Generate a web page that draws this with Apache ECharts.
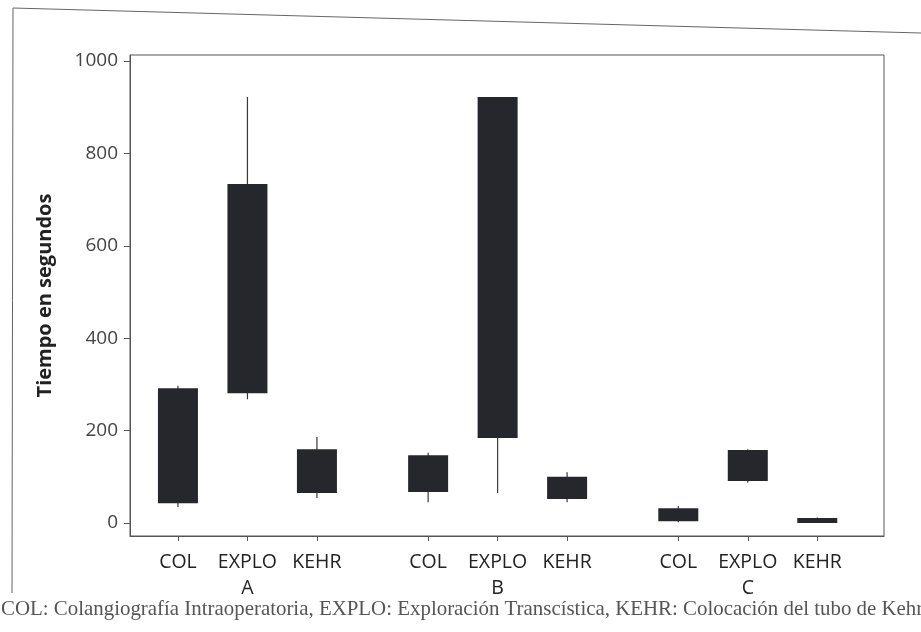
<!DOCTYPE html>
<html>
<head>
<meta charset="utf-8">
<script src="https://cdn.jsdelivr.net/npm/echarts@6/dist/echarts.min.js"></script>
<style>
  html, body { margin: 0; padding: 0; background: #fff; }
  #chart { width: 921px; height: 632px; }
</style>
</head>
<body>
<div id="chart"></div>
<script>
// datos (segundos)
const groups = ['A', 'B', 'C'];
const procs = ['COL', 'EXPLO', 'KEHR'];
const yTicks = [0, 200, 400, 600, 800, 1000];

// orden: A-COL, A-EXPLO, A-KEHR, B-COL, ... C-KEHR
const minVals    = [35, 268, 54, 45, 65, 45, 2, 87, 0];
const q1Vals     = [43, 281, 65, 67, 184, 52, 4, 91, 0];
const medianVals = [160, 500, 110, 105, 550, 75, 18, 125, 5];
const q3Vals     = [292, 734, 160, 147, 922, 100, 32, 158, 11];
const maxVals    = [297, 922, 186, 152, 922, 110, 37, 160, 12];

const caption = 'COL: Colangiografía Intraoperatoria, EXPLO: Exploración Transcística, KEHR: Colocación del tubo de Kehr';

const GROUP_STEP = 3.6; // separacion entre grupos, en unidades del eje x

let positions = [];
let names = [];
groups.forEach((g, gi) => {
    procs.forEach((p, pi) => {
        positions.push(gi * GROUP_STEP + pi);
        names.push(pi === 1 ? p + '\n' + g : p);
    });
});

let boxData = positions.map((x, i) => [x, minVals[i], q1Vals[i], medianVals[i], q3Vals[i], maxVals[i]]);

const chart = echarts.init(document.getElementById('chart'));

let option = {
    animation: false,
    backgroundColor: '#fff',
    title: {
        text: caption,
        left: -4,
        top: 594,
        textStyle: {
            fontFamily: 'Liberation Serif',
            fontWeight: 'normal',
            fontSize: 20.9,
            color: '#555'
        }
    },
    grid: {
        show: true,
        left: 130,
        right: 37,
        top: 55,
        bottom: 96,
        borderColor: '#555',
        borderWidth: 1,
        backgroundColor: 'transparent'
    },
    xAxis: {
        type: 'value',
        min: -0.69,
        max: 10.16,
        splitLine: { show: false },
        axisLine: { show: true, onZero: false, lineStyle: { color: '#555' } },
        axisTick: {
            show: true,
            inside: false,
            length: 5,
            customValues: positions,
            lineStyle: { color: '#555' }
        },
        axisLabel: {
            customValues: positions,
            margin: 13,
            fontFamily: 'Open Sans',
            fontSize: 19.5,
            lineHeight: 26,
            color: '#222',
            formatter: (v) => {
                let idx = positions.findIndex(p => Math.abs(p - v) < 1e-6);
                return idx >= 0 ? names[idx] : '';
            }
        }
    },
    yAxis: {
        type: 'value',
        min: -28,
        max: 1013,
        name: 'Tiempo en segundos',
        nameLocation: 'middle',
        nameGap: 75,
        nameTextStyle: {
            fontFamily: 'Open Sans',
            fontWeight: 'bold',
            fontSize: 20,
            color: '#222'
        },
        splitLine: { show: false },
        axisLine: { show: true, onZero: false, lineStyle: { color: '#555' } },
        axisTick: {
            show: true,
            length: 6,
            customValues: yTicks,
            lineStyle: { color: '#555' }
        },
        axisLabel: {
            customValues: yTicks,
            margin: 12,
            fontFamily: 'Open Sans',
            fontSize: 19,
            color: '#444',
            formatter: (v) => String(v)
        }
    },
    series: [{
        type: 'custom',
        data: boxData,
        encode: { x: 0, y: [1, 2, 3, 4, 5] },
        renderItem: (params, api) => {
            let x = api.value(0);
            let pLow = api.coord([x, api.value(1)]);
            let pQ1 = api.coord([x, api.value(2)]);
            let pQ3 = api.coord([x, api.value(4)]);
            let pHigh = api.coord([x, api.value(5)]);
            let w = 40;
            return {
                type: 'group',
                children: [
                    {
                        type: 'line',
                        shape: { x1: pLow[0], y1: pLow[1], x2: pHigh[0], y2: pHigh[1] },
                        style: { stroke: '#3a3a3e', lineWidth: 1.2 }
                    },
                    {
                        type: 'rect',
                        shape: { x: pQ3[0] - w / 2, y: pQ3[1], width: w, height: Math.max(pQ1[1] - pQ3[1], 5) },
                        style: { fill: '#26272c' }
                    }
                ]
            };
        }
    }],
    graphic: [{
        // marco exterior del escaneo
        type: 'polyline',
        shape: { points: [[12, 593], [13, 8], [921, 33]] },
        style: { stroke: '#666', lineWidth: 1, fill: null },
        silent: true
    }]
};

chart.setOption(option);
</script>
</body>
</html>
